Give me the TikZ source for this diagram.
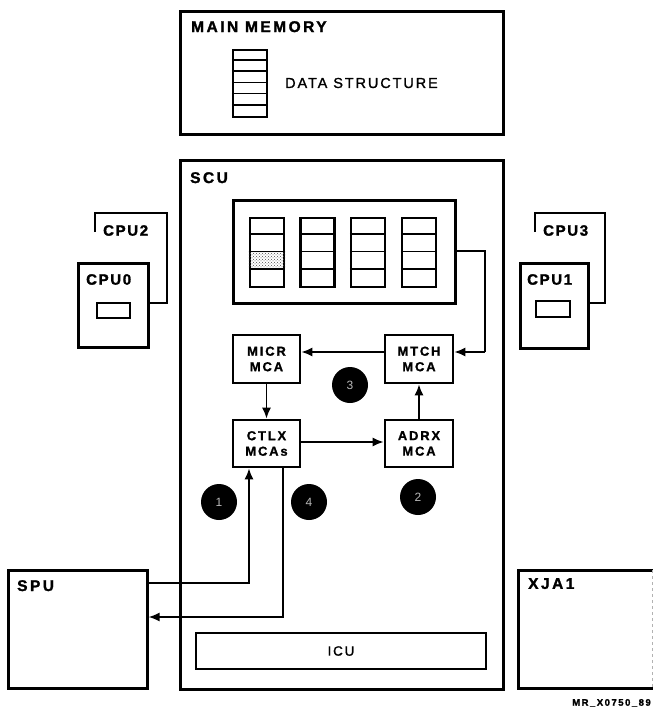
\documentclass[tikz,border=0pt]{standalone}
\usepackage{fontspec}
\setmainfont{Liberation Sans}
\newfontfamily\lblfont[LetterSpace=16,FakeBold=1.6]{Liberation Sans Bold}
\newfontfamily\cpufont[LetterSpace=11,FakeBold=1.6]{Liberation Sans Bold}
\newfontfamily\midfont[LetterSpace=14,FakeBold=1.2]{Liberation Sans Bold}
\newfontfamily\txtfont[LetterSpace=13,FakeBold=1.2]{Liberation Sans}
\usetikzlibrary{arrows.meta,patterns}
\begin{document}
\begin{tikzpicture}[x=1pt,y=-1pt,
  heavy/.style={draw, line width=3pt, inner sep=0pt},
  midbox/.style={draw, line width=2.6pt, inner sep=0pt, align=center,
     font=\midfont\fontsize{13}{15.5}\selectfont},
  thin/.style={draw, line width=2.2pt, inner sep=0pt},
  lbl/.style={anchor=north west, inner sep=0pt, font=\lblfont\fontsize{15.5}{15.5}\selectfont},
  cpulbl/.style={anchor=north west, inner sep=0pt, font=\cpufont\fontsize{15}{15}\selectfont},
  conn/.style={line width=1.8pt},
  arr/.style={conn, -{Latex[length=11pt,width=9pt]}},
  num/.style={circle, fill=black, minimum size=36pt, inner sep=0pt,
     text=gray!55, font=\fontsize{12}{12}\selectfont}
]
\useasboundingbox (0,0) rectangle (653,720);

% main memory
\node[heavy, minimum width=323pt, minimum height=123pt] (mm) at (341.5,72.5) {};
\node[lbl] (mmlbl) at (191,21) {MAIN MEMORY};
\node[thin, minimum width=34pt, minimum height=67pt] (ds) at (250,83.5) {};
\foreach \i in {1,...,5}
  \draw[line width=1.8pt] ([yshift=-\i*11.17pt]ds.north west) -- ([yshift=-\i*11.17pt]ds.north east);
\node[anchor=west, inner sep=0pt, font=\txtfont\fontsize{14.5}{14.5}\selectfont] (dslbl) at (285,83) {DATA STRUCTURE};

% SCU
\node[heavy, minimum width=323pt, minimum height=529pt] (scu) at (341.5,424.5) {};
\node[lbl] (sculbl) at (190,172) {SCU};

% buffer with columns
\node[heavy, minimum width=222pt, minimum height=103pt] (buf) at (344,251.5) {};
\foreach \c/\x in {1/267,2/317.5,3/368,4/419} {
  \node[thin, minimum width=34pt, minimum height=69pt] (col\c) at (\x,252.5) {};
}
\fill[pattern=crosshatch dots, pattern color=black!70]
  ([yshift=-34.5pt]col1.north west) rectangle ([yshift=-51.75pt]col1.north east);
\foreach \c in {1,...,4}
  \foreach \i in {1,2,3}
    \draw[line width=1.8pt] ([yshift=-\i*17.25pt]col\c.north west) -- ([yshift=-\i*17.25pt]col\c.north east);

% MCAs
\node[midbox, minimum width=67pt, minimum height=48pt] (micr) at (266.5,359) {MICR\\MCA};
\node[midbox, minimum width=68pt, minimum height=48pt] (mtch) at (419,359) {MTCH\\MCA};
\node[midbox, minimum width=67pt, minimum height=47pt] (ctlx) at (266.5,443.5) {CTLX\\MCAs};
\node[midbox, minimum width=68pt, minimum height=47pt] (adrx) at (419,443.5) {ADRX\\MCA};

% numbered circles
\node[num] (n1) at (219,502) {1};
\node[num] (n2) at (418,497) {2};
\node[num] (n3) at (350,385) {3};
\node[num] (n4) at (309,502) {4};

% ICU
\node[thin, minimum width=290pt, minimum height=36pt,
  font=\txtfont\fontsize{13.5}{13.5}\selectfont] (icu) at (341,651) {ICU};

% SPU and XJA1
\node[heavy, minimum width=139pt, minimum height=118pt] (spu) at (77.5,629) {};
\node[lbl] (spulbl) at (17,580) {SPU};
\draw[line width=3pt] (653,570) -- (518,570) -- (518,688) -- (653,688);
\draw[line width=0.6pt, gray!60, dashed] (652,570) -- (652,688);
\node[lbl] (xjalbl) at (528,578) {XJA1};

% CPUs
\draw[line width=2.8pt] (95,232) -- (95,213) -- (167,213) -- (167,303) -- (148,303);
\node[cpulbl] (cpu2) at (103,225) {CPU2};
\node[heavy, minimum width=70pt, minimum height=84pt] (cpu0) at (113,305) {};
\node[cpulbl] (cpu0lbl) at (86,274) {CPU0};
\node[thin, minimum width=33pt, minimum height=15pt] (cpu0r) at (113.5,310.5) {};

\draw[line width=2.8pt] (535,232) -- (535,213) -- (605,213) -- (605,303) -- (588,303);
\node[cpulbl] (cpu3) at (543,225) {CPU3};
\node[heavy, minimum width=68pt, minimum height=85pt] (cpu1) at (554,305.5) {};
\node[cpulbl] (cpu1lbl) at (527,274) {CPU1};
\node[thin, minimum width=34pt, minimum height=16pt] (cpu1r) at (553,309) {};

% connectors
\coordinate (b1) at (485,251);
\coordinate (b2) at (485,352);
\draw[conn] (buf.east |- b1) -- (b1) -- (b2);
\draw[arr] (b2) -- (mtch.east |- b2);
\draw[arr] (mtch.west |- b2) -- (micr.east |- b2);
\draw[arr] (micr.south) -- (ctlx.north);
\draw[arr] (ctlx.east |- 0,442) -- (adrx.west |- 0,442);
\draw[arr] (adrx.north) -- (mtch.south);

\coordinate (s1) at (249,583);
\coordinate (s2) at (283,617);
\draw[arr] (spu.east |- s1) -- (s1) -- (ctlx.south -| s1);
\draw[arr] (ctlx.south -| s2) -- (s2) -- (spu.east |- s2);

\node[anchor=east, inner sep=0pt, font=\lblfont\fontsize{9.5}{10}\selectfont] (code) at (651,703) {MR\_X0750\_89};
\end{tikzpicture}
\end{document}
